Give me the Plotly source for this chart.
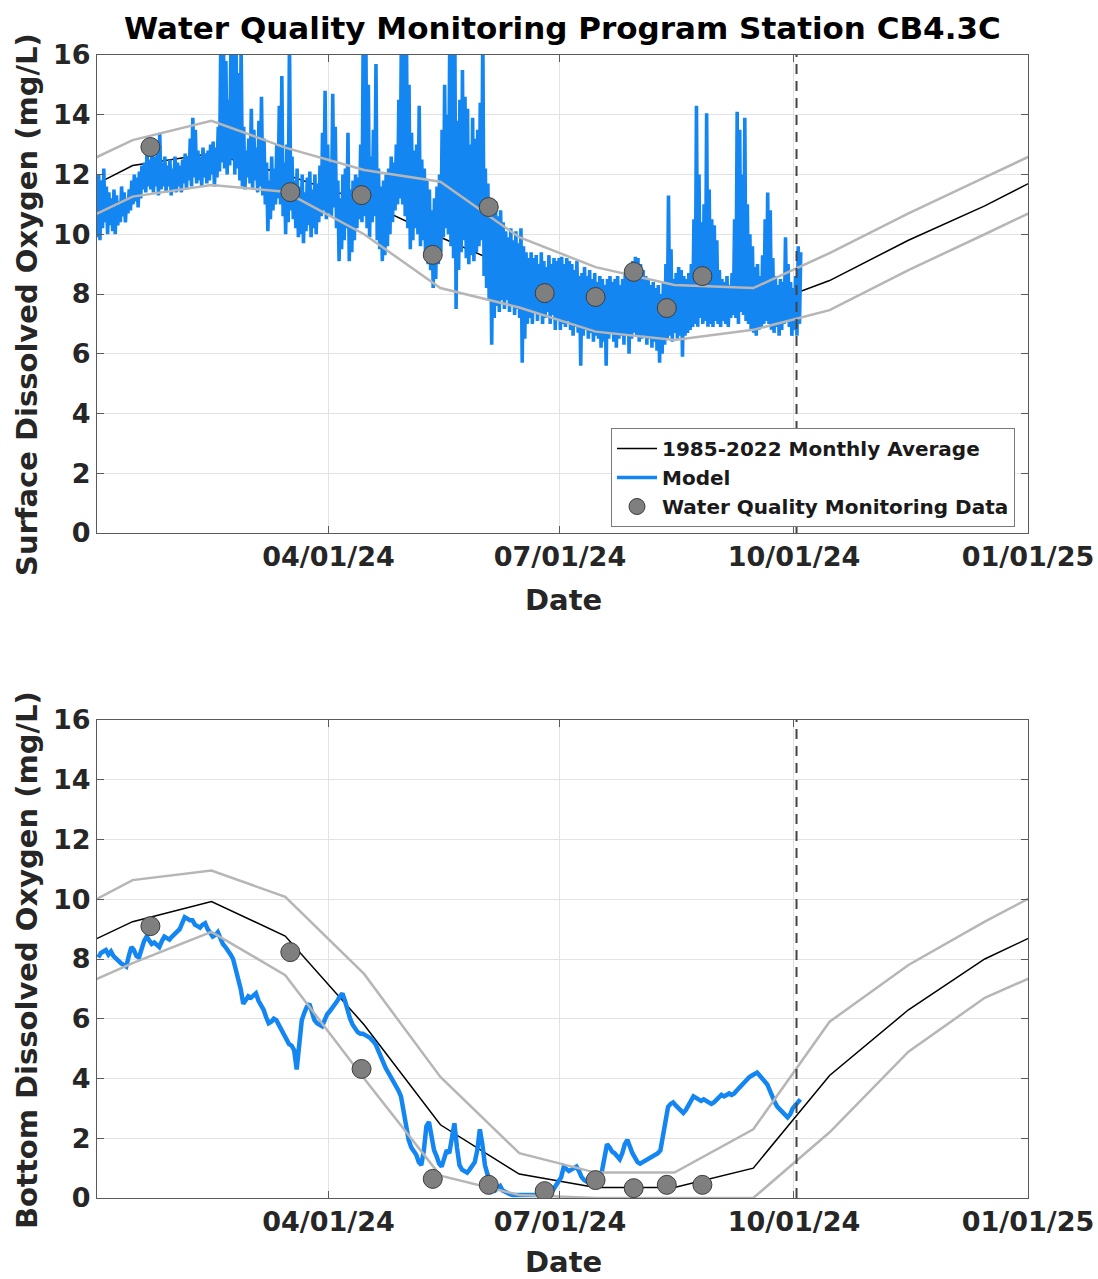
import pandas as pd
import plotly.graph_objects as go

# ---------------- data ----------------
month_mid = ["2023-12-15", "2024-01-15", "2024-02-15", "2024-03-15", "2024-04-15",
             "2024-05-15", "2024-06-15", "2024-07-15", "2024-08-15", "2024-09-15",
             "2024-10-15", "2024-11-15", "2024-12-15", "2025-01-15"]

surf_avg = [10.95, 12.3, 12.7, 12.0, 11.1, 9.9, 8.75, 7.8, 7.4, 7.5, 8.45, 9.8, 10.95, 12.3]
surf_upper = [11.9, 13.15, 13.8, 12.9, 12.15, 11.76, 9.9, 8.9, 8.3, 8.2, 9.37, 10.7, 11.9, 13.15]
surf_lower = [10.0, 11.26, 11.65, 11.42, 10.0, 8.2, 7.55, 6.74, 6.46, 6.8, 7.46, 8.8, 10.0, 11.26]

bot_avg = [8.0, 9.25, 9.92, 8.77, 5.8, 2.45, 0.8, 0.35, 0.35, 1.0, 4.1, 6.3, 8.0, 9.25]
bot_upper = [9.25, 10.64, 10.96, 10.08, 7.5, 4.05, 1.5, 0.85, 0.85, 2.3, 5.9, 7.8, 9.25, 10.64]
bot_lower = [6.7, 7.86, 8.91, 7.46, 4.0, 0.75, 0.1, 0.0, 0.0, 0.0, 2.2, 4.9, 6.7, 7.86]

obs_dates = ["2024-01-22", "2024-03-17", "2024-04-14", "2024-05-12", "2024-06-03",
             "2024-06-25", "2024-07-15", "2024-07-30", "2024-08-12", "2024-08-26"]
surf_obs = [12.92, 11.41, 11.31, 9.31, 10.91, 8.03, 7.9, 8.74, 7.53, 8.6]
bot_obs = [9.1, 8.23, 4.32, 0.64, 0.44, 0.23, 0.6, 0.33, 0.44, 0.44]

model_start = "2024-01-01"
# daily low / high of the surface model (from 01/01/24)
surf_lo = [
    9.9, 9.8, 10.2, 10.4, 10.0, 10.3, 10.1, 10.0, 10.3, 10.4,
    10.6, 10.4, 10.7, 10.8, 11.0, 11.1, 10.9, 11.2, 11.5, 11.4,
    11.6, 11.5, 11.4, 11.6, 11.3, 11.5, 11.6, 11.4, 11.6, 11.3,
    11.5, 11.4, 11.6, 11.4, 11.7, 11.5, 11.8, 11.6, 11.9, 11.7,
    11.8, 11.6, 11.9, 11.7, 11.8, 12.0, 11.6, 11.9, 12.1, 12.4,
    12.2, 12.0, 12.3, 12.5, 12.0, 12.2, 11.8, 11.6, 11.5, 11.9,
    11.7, 11.5, 11.8, 11.4, 11.6, 11.3, 11.0, 10.1, 10.5, 10.8,
    11.0, 11.2, 11.0, 10.6, 10.0, 10.4, 10.8, 10.5, 10.2, 9.9,
    10.0, 9.7, 10.1, 10.3, 9.9, 10.2, 10.0, 10.4, 10.6, 10.8,
    10.5, 10.7, 10.6, 10.9, 10.2, 9.1, 9.5, 9.8, 10.2, 9.1,
    9.4, 9.8, 10.2, 10.5, 10.4, 10.6, 10.2, 9.9, 10.4, 10.6,
    9.8, 9.5, 9.1, 9.3, 9.6, 10.0, 10.4, 10.8, 11.0, 11.2,
    11.0, 10.6, 10.2, 9.5, 9.8, 10.2, 10.0, 9.6, 9.8, 9.3,
    9.0, 8.8, 8.2, 8.5, 9.0, 9.4, 9.9, 10.2, 10.0, 9.6,
    9.2, 7.5, 8.8, 9.4, 9.8, 9.2, 9.0, 9.3, 9.1, 9.4,
    9.6, 9.8, 8.6, 8.2, 7.8, 6.3, 7.2, 7.6, 7.4, 7.8,
    7.5, 7.8, 7.4, 7.6, 7.3, 7.5, 7.2, 5.7, 6.5, 7.0,
    7.2, 7.0, 7.4, 7.1, 7.3, 7.0, 7.2, 7.4, 7.0, 7.3,
    6.8, 7.1, 6.8, 7.0, 6.9, 7.1, 6.8, 6.6, 6.9, 6.7,
    5.6, 6.6, 6.8, 6.5, 6.7, 6.4, 6.6, 6.5, 6.2, 6.4,
    5.6, 6.5, 6.7, 6.4, 6.2, 6.5, 6.6, 6.3, 6.6, 6.0,
    6.5, 6.7, 6.6, 6.4, 6.5, 6.6, 6.3, 6.5, 6.2, 6.4,
    6.1, 5.7, 6.0, 6.3, 6.5, 6.6, 6.4, 6.7, 6.5, 6.6,
    5.9, 6.6, 6.7, 6.8, 6.9, 7.0, 6.9, 7.2, 7.0, 7.1,
    6.9, 7.0, 6.9, 7.1, 7.0, 6.9, 7.1, 7.0, 6.9, 7.2,
    7.3, 7.2, 7.0, 7.4, 7.3, 7.1, 7.0, 6.8, 6.7, 6.6,
    6.8, 6.9, 7.0, 7.1, 7.0, 6.8, 6.7, 6.9, 6.6, 6.8,
    7.0, 7.1, 6.9, 6.6, 6.8, 6.6, 7.0]
surf_hi = [
    12.0, 11.8, 12.2, 11.6, 11.4, 11.2, 11.5, 11.3, 11.1, 11.6,
    11.4, 11.2, 11.5, 11.8, 12.0, 11.9, 12.1, 12.3, 12.4, 12.8,
    12.5, 12.9, 12.6, 12.7, 13.4, 12.4, 12.6, 12.3, 12.5, 12.2,
    12.6, 12.4, 12.3, 12.5, 12.7, 12.6, 13.2, 13.9, 13.5, 12.8,
    12.6, 12.9, 12.7, 12.8, 13.0, 13.1, 12.9, 13.6, 16.5, 17.0,
    15.8, 14.5, 16.8, 17.0, 16.2, 15.4, 16.3, 13.6, 12.8, 13.2,
    14.2, 13.5, 12.9, 13.8, 14.6, 13.2, 12.4, 11.8, 12.6, 12.2,
    13.0, 14.3, 15.3, 12.4, 13.0, 16.5, 12.6, 11.8, 12.2, 11.6,
    12.0, 11.4, 11.9, 12.1, 11.5, 12.0, 11.7, 12.3, 13.4, 14.8,
    13.0, 12.4, 14.7, 13.6, 11.8, 11.2, 12.0, 12.2, 13.4, 11.5,
    11.8, 12.0, 11.9, 13.0, 16.8, 17.0, 15.0, 12.6, 13.5, 15.7,
    12.2, 11.6, 11.8, 12.0, 12.2, 12.6, 12.4, 13.0, 14.5, 16.8,
    17.0, 16.5, 15.0, 13.4, 12.8, 13.0, 14.3, 12.5, 12.2, 11.8,
    11.5, 10.8, 11.2, 11.6, 12.0, 13.5, 15.0, 14.0, 16.5, 17.0,
    16.8, 13.8, 14.5, 15.5, 14.6, 14.2, 13.0, 13.9, 13.2, 13.5,
    14.4, 17.0, 12.2, 11.7, 11.2, 10.8, 11.1, 10.6, 10.8, 10.4,
    10.1, 9.9, 10.2, 9.8, 10.1, 9.7, 10.2, 9.6, 9.4, 9.2,
    9.4, 9.2, 9.3, 9.0, 9.4, 9.1, 8.9, 9.3, 9.0, 9.2,
    9.1, 9.2, 9.25, 9.0, 9.2, 9.1, 9.0, 8.8, 9.1, 8.6,
    8.7, 8.9, 8.6, 8.8, 8.5, 8.7, 8.4, 8.6, 8.5, 8.3,
    8.5, 8.6, 8.4, 8.5, 8.6, 8.3, 8.5, 8.7, 8.9, 9.0,
    9.1, 9.25, 9.2, 9.0, 8.8, 8.6, 8.5, 8.3, 8.4, 8.2,
    8.3, 8.0, 8.4, 9.0, 11.3, 9.5, 8.5, 8.7, 8.9, 8.8,
    8.6, 8.5, 8.7, 9.0, 10.5, 14.3, 12.0, 10.4, 11.0, 14.05,
    11.5, 10.5, 10.3, 9.8, 8.8, 8.5, 8.4, 8.6, 8.3, 8.7,
    10.5, 14.1, 13.5, 12.0, 13.9, 11.0, 10.0, 9.6, 8.9, 9.0,
    8.6, 9.3, 10.5, 11.4, 10.8, 9.2, 8.6, 8.3, 8.5, 8.4,
    9.9, 9.0, 8.4, 8.2, 8.6, 9.6, 9.4]
# daily bottom model values (from 01/01/24)
bot_model = [
    8.05, 8.2, 8.25, 8.3, 8.15, 8.25, 8.1, 8.0, 7.95, 7.85,
    7.8, 7.75, 8.1, 8.4, 8.3, 8.1, 8.05, 8.35, 8.6, 8.75,
    8.6, 8.5, 8.55, 8.45, 8.4, 8.6, 8.75, 8.7, 8.65, 8.75,
    8.85, 8.95, 9.0, 9.2, 9.4, 9.35, 9.3, 9.3, 9.15, 9.1,
    9.05, 9.15, 9.2, 9.0, 8.85, 8.75, 8.8, 8.9, 8.7, 8.5,
    8.4, 8.3, 8.15, 8.0, 7.7, 7.4, 7.0, 6.5, 6.6, 6.75,
    6.7, 6.8, 6.85, 6.6, 6.45, 6.3, 6.05, 5.85, 5.9, 6.0,
    5.95, 5.8, 5.65, 5.5, 5.3, 5.15, 5.1, 4.95, 4.3, 5.3,
    5.95, 6.2, 6.4, 6.5, 6.2, 5.95, 5.85, 5.8, 5.75, 5.95,
    6.15, 6.25, 6.35, 6.45, 6.6, 6.75, 6.85, 6.6, 6.25, 6.0,
    5.8, 5.65, 5.55, 5.5, 5.5, 5.45, 5.4, 5.35, 5.25, 5.15,
    4.95, 4.7, 4.55, 4.35, 4.2, 4.05, 3.9, 3.8, 3.6, 3.4,
    2.9, 2.3, 1.95, 1.7, 1.55, 1.45, 1.2, 1.1, 1.6, 2.4,
    2.55, 2.0, 1.6, 1.4, 1.15, 1.05, 1.3, 1.6, 1.5, 2.0,
    2.5, 1.7, 1.1, 0.95, 0.9, 0.85, 0.95, 1.05, 1.2, 1.6,
    2.3, 1.8, 1.1, 0.8, 0.5, 0.3, 0.25, 0.35, 0.4, 0.25,
    0.2, 0.15, 0.12, 0.1, 0.1, 0.1, 0.1, 0.12, 0.1, 0.1,
    0.1, 0.1, 0.12, 0.1, 0.1, 0.1, 0.1, 0.15, 0.2, 0.3,
    0.45, 0.6, 0.7, 1.05, 0.95, 0.9, 0.95, 1.0, 1.05, 0.9,
    0.7, 0.6, 0.55, 0.5, 0.55, 0.6, 0.55, 0.6, 0.9, 1.4,
    1.8, 1.7, 1.55, 1.5, 1.4, 1.3, 1.5, 1.8, 1.95, 1.7,
    1.5, 1.35, 1.2, 1.15, 1.2, 1.25, 1.3, 1.35, 1.4, 1.45,
    1.5, 1.6, 2.1, 2.7, 3.05, 3.15, 3.2, 3.1, 3.0, 2.9,
    2.85, 2.95, 3.1, 3.3, 3.4, 3.35, 3.3, 3.25, 3.3, 3.25,
    3.2, 3.15, 3.2, 3.3, 3.4, 3.45, 3.4, 3.45, 3.5, 3.45,
    3.5, 3.6, 3.7, 3.8, 3.85, 3.95, 4.05, 4.1, 4.15, 4.2,
    4.1, 4.0, 3.9, 3.8, 3.6, 3.35, 3.2, 3.05, 2.95, 2.85,
    2.75, 2.7, 2.8, 3.0, 3.1, 3.2, 3.3]

forecast_date = "2024-10-02"
x_ticks = ["2024-04-01", "2024-07-01", "2024-10-01", "2025-01-01"]
y_ticks = [0, 2, 4, 6, 8, 10, 12, 14, 16]

# ---------------- build model time axes ----------------
t0 = pd.Timestamp(model_start)
surf_x, surf_y = [], []
for i, (lo, hi) in enumerate(zip(surf_lo, surf_hi)):
    surf_x += [t0 + pd.Timedelta(days=i, hours=4), t0 + pd.Timedelta(days=i, hours=16)]
    surf_y += [lo, hi]
bot_x = [t0 + pd.Timedelta(days=i, hours=12) for i in range(len(bot_model))]

BLUE = "rgb(20,134,242)"
GRAY = "#b6b6b6"
FONT = "DejaVu Sans"
W, H = 1098, 1279

fig = go.Figure()


def add_panel(xa, ya, avg, up, lo, mx, my, obs, legend, mwidth):
    fig.add_trace(go.Scatter(x=month_mid, y=avg, mode="lines", xaxis=xa, yaxis=ya,
                             line=dict(color="black", width=1.5),
                             name="1985-2022 Monthly Average", showlegend=legend))
    fig.add_trace(go.Scatter(x=mx, y=my, mode="lines", xaxis=xa, yaxis=ya,
                             line=dict(color=BLUE, width=mwidth),
                             name="Model", showlegend=legend))
    for b in (up, lo):
        fig.add_trace(go.Scatter(x=month_mid, y=b, mode="lines", xaxis=xa, yaxis=ya,
                                 line=dict(color=GRAY, width=2.5), showlegend=False,
                                 hoverinfo="skip"))
    fig.add_trace(go.Scatter(x=obs_dates, y=obs, mode="markers", xaxis=xa, yaxis=ya,
                             marker=dict(size=19, color="#7f7f7f",
                                         line=dict(color="#3c3c3c", width=1)),
                             name="Water Quality Monitoring Data", showlegend=legend))


add_panel("x", "y", surf_avg, surf_upper, surf_lower, surf_x, surf_y, surf_obs, True, 3.6)
add_panel("x2", "y2", bot_avg, bot_upper, bot_lower, bot_x, bot_model, bot_obs, False, 4.5)

x_dom = [97 / W, 1028 / W]
top_dom = [1 - 533 / H, 1 - 55 / H]
bot_dom = [1 - 1198 / H, 1 - 720 / H]

tickfont = dict(family=FONT, size=27, color="#262626", weight="bold")
common_x = dict(type="date", range=["2024-01-01", "2025-01-01"], tickvals=x_ticks,
                tickformat="%m/%d/%y", showgrid=True, gridcolor="#e3e3e3", gridwidth=1,
                showline=True, linecolor="#5a5a5a", linewidth=1, mirror="ticks",
                ticks="inside", ticklen=7, tickcolor="#5a5a5a", tickfont=tickfont,
                zeroline=False, domain=x_dom, automargin=False)
common_y = dict(range=[0, 16], tickvals=y_ticks, showgrid=True, gridcolor="#e3e3e3",
                gridwidth=1, showline=True, linecolor="#5a5a5a", linewidth=1,
                mirror="ticks", ticks="inside", ticklen=7, tickcolor="#5a5a5a",
                tickfont=tickfont, zeroline=False, automargin=False)

fig.update_layout(
    width=W, height=H, margin=dict(l=0, r=0, t=0, b=0, pad=0),
    paper_bgcolor="white", plot_bgcolor="white",
    font=dict(family=FONT, color="#262626"),
    xaxis=dict(common_x, anchor="y"),
    yaxis=dict(common_y, anchor="x", domain=top_dom),
    xaxis2=dict(common_x, anchor="y2"),
    yaxis2=dict(common_y, anchor="x2", domain=bot_dom),
    legend=dict(x=1015 / W, xanchor="right", y=1 - 428 / H, yanchor="top",
                bgcolor="white", bordercolor="#7a7a7a", borderwidth=1,
                font=dict(family=FONT, size=20, color="#1a1a1a", weight="bold"),
                tracegroupgap=0, itemwidth=40),
    showlegend=True,
)

for xr, yr in (("x", "y domain"), ("x2", "y2 domain")):
    fig.add_shape(type="line", xref=xr, yref=yr, x0=forecast_date, x1=forecast_date,
                  y0=0, y1=1, line=dict(color="#444444", width=2, dash="10px,7px"))

lab = dict(family=FONT, size=29, color="#262626", weight="bold")
ann = [
    dict(text="Water Quality Monitoring Program Station CB4.3C", x=562 / W, y=1 - 28 / H,
         font=dict(family=FONT, size=31, color="black", weight="bold")),
    dict(text="Surface Dissolved Oxygen (mg/L)", x=27 / W, y=1 - 305 / H, textangle=-90, font=lab),
    dict(text="Bottom Dissolved Oxygen (mg/L)", x=27 / W, y=1 - 960 / H, textangle=-90, font=lab),
    dict(text="Date", x=563 / W, y=1 - 600 / H, font=lab),
    dict(text="Date", x=563 / W, y=1 - 1262 / H, font=lab),
]
for a in ann:
    fig.add_annotation(xref="paper", yref="paper", showarrow=False, xanchor="center",
                       yanchor="middle", **a)

fig.write_html(
    "out.html",
    config={"displayModeBar": False, "responsive": False},
    post_script="document.documentElement.style.margin='0';"
                "document.body.style.margin='0';"
                "document.body.style.overflow='hidden';",
)
